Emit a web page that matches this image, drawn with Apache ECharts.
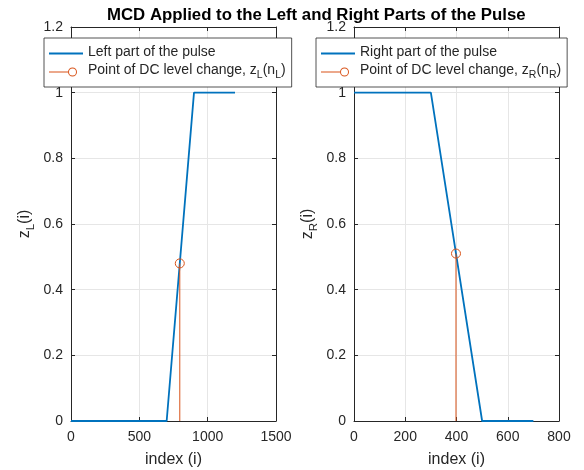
<!DOCTYPE html>
<html><head><meta charset="utf-8">
<script src="https://cdn.jsdelivr.net/npm/echarts@6/dist/echarts.min.js"></script>
<style>html,body{margin:0;padding:0;background:#fff}#c{width:584px;height:470px}</style>
</head><body><div id="c"></div>
<script>
const titleText = 'MCD Applied to the Left and Right Parts of the Pulse';
const leftX = [0, 700, 900, 1200];
const leftY = [0, 0, 1, 1];
const rightX = [0, 300, 500, 700];
const rightY = [1, 1, 0, 0];
const leftPointX = 796, leftPointY = 0.48;
const rightPointX = 398, rightPointY = 0.51;
const leftXTicks = [0, 1500, 500];   // min, max, interval
const rightXTicks = [0, 800, 200];
const yTicks = [0, 1.2, 0.2];
const leftNames = ['Left part of the pulse', 'Point of DC level change, zL'];
const rightNames = ['Right part of the pulse', 'Point of DC level change, zR'];

const FONT = 'Liberation Sans';
const TXT = '#262626';
const BLUE = '#0072BD', ORANGE = '#D95319';
const sub = {fontSize: 10.5, fontFamily: FONT, color: TXT, padding: [7, 0, 0, 0], verticalAlign: 'top'};
const norm = {fontSize: 14, fontFamily: FONT, color: TXT, verticalAlign: 'top', lineHeight: 17};
const nameNorm = {fontSize: 16, fontFamily: FONT, color: TXT, verticalAlign: 'top', lineHeight: 19};
const nameSub = {fontSize: 11.5, fontFamily: FONT, color: TXT, padding: [8, 0, 0, 0], verticalAlign: 'top'};

const lineIcon = 'path://M0,8 L34,8 L34,10 L0,10 Z';
const stemIcon = 'path://M0,8.5 L19,8.5 L19,9.5 L0,9.5 Z ' +
  'M19,9 A4.5,4.5 0 1 1 28,9 A4.5,4.5 0 1 1 19,9 Z ' +
  'M20,9 A3.5,3.5 0 1 0 27,9 A3.5,3.5 0 1 0 20,9 Z ' +
  'M34,9 L34,9.01 L33.99,9.01 Z';

const grids = [
  {left: 71, right: 308, top: 27, bottom: 49, containLabel: false, outerBoundsMode: 'none'},
  {left: 354, right: 25, top: 27, bottom: 49, containLabel: false, outerBoundsMode: 'none'}
];
function xAx(gi, t, pos) {
  const main = pos === 'bottom';
  return {
    type: 'value', gridIndex: gi, position: pos, min: t[0], max: t[1], interval: t[2],
    name: main ? 'index (i)' : '', nameLocation: 'middle', nameGap: 31,
    nameTextStyle: {fontSize: 16, fontFamily: FONT, color: TXT},
    axisLine: {show: true, onZero: false, lineStyle: {color: '#262626', width: 1}},
    axisTick: {show: true, inside: true, length: 4, lineStyle: {color: '#262626'}},
    axisLabel: {show: main, fontSize: 14, fontFamily: FONT, color: TXT, margin: 9,
      formatter: v => String(v)},
    splitLine: {show: main, lineStyle: {color: '#e6e6e6', width: 1}}
  };
}
function yAx(gi, pos, sname) {
  const main = pos === 'left';
  return {
    type: 'value', gridIndex: gi, position: pos, min: yTicks[0], max: yTicks[1], interval: yTicks[2],
    name: main ? '{n|z}{s|' + sname + '}{n|(i)}' : '', nameLocation: 'middle', nameGap: 34,
    nameTextStyle: {rich: {n: nameNorm, s: nameSub}},
    axisLine: {show: true, onZero: false, lineStyle: {color: '#262626', width: 1}},
    axisTick: {show: true, inside: true, length: 4, lineStyle: {color: '#262626'}},
    axisLabel: {show: main, fontSize: 14, fontFamily: FONT, color: TXT, margin: 8,
      formatter: v => String(Math.round(v * 10) / 10)},
    splitLine: {show: main, lineStyle: {color: '#e6e6e6', width: 1}}
  };
}
function legendFmt(name) {
  if (name.indexOf('zL') >= 0) return '{t|Point of DC level change, z}{s|L}{t|(n}{s|L}{t|)}';
  if (name.indexOf('zR') >= 0) return '{t|Point of DC level change, z}{s|R}{t|(n}{s|R}{t|)}';
  return '{t|' + name + '}';
}
function legend(names, left) {
  return {
    data: [{name: names[0], icon: lineIcon, itemStyle: {color: BLUE, borderWidth: 0}},
           {name: names[1], icon: stemIcon, itemStyle: {color: ORANGE, borderWidth: 0}}],
    left: left, top: 38, orient: 'vertical',
    itemWidth: 34, itemHeight: 10, itemGap: 4, padding: [7, 6, 6, 5],
    backgroundColor: '#fff', borderColor: '#262626', borderWidth: 0.8,
    itemStyle: {borderWidth: 0},
    formatter: legendFmt, textStyle: {rich: {t: norm, s: sub}}, z: 10
  };
}
const markerStyle = {color: 'rgba(0,0,0,0)', borderColor: ORANGE, borderWidth: 1};
const chart = echarts.init(document.getElementById('c'), null, {renderer: 'canvas'});
chart.setOption({
  animation: false,
  backgroundColor: '#fff',
  title: {text: titleText, left: 102, top: 2,
    textStyle: {fontSize: 16.8, fontWeight: 'bold', fontFamily: FONT, color: '#000'}},
  grid: grids,
  xAxis: [xAx(0, leftXTicks, 'bottom'), xAx(0, leftXTicks, 'top'),
          xAx(1, rightXTicks, 'bottom'), xAx(1, rightXTicks, 'top')],
  yAxis: [yAx(0, 'left', 'L'), yAx(0, 'right', 'L'), yAx(1, 'left', 'R'), yAx(1, 'right', 'R')],
  legend: [legend(leftNames, 44), legend(rightNames, 316)],
  series: [
    {name: leftNames[0], type: 'line', xAxisIndex: 0, yAxisIndex: 0, showSymbol: false, symbol: 'none',
      lineStyle: {color: BLUE, width: 1.8}, itemStyle: {color: BLUE},
      data: leftX.map((x, i) => [x, leftY[i]])},
    {name: leftNames[1], type: 'line', xAxisIndex: 0, yAxisIndex: 0, symbol: 'circle', symbolSize: 9,
      lineStyle: {color: ORANGE, width: 1}, itemStyle: markerStyle, z: 3,
      data: [{value: [leftPointX, 0], symbol: 'none'}, {value: [leftPointX, leftPointY]}]},
    {name: rightNames[0], type: 'line', xAxisIndex: 2, yAxisIndex: 2, showSymbol: false, symbol: 'none',
      lineStyle: {color: BLUE, width: 1.8}, itemStyle: {color: BLUE},
      data: rightX.map((x, i) => [x, rightY[i]])},
    {name: rightNames[1], type: 'line', xAxisIndex: 2, yAxisIndex: 2, symbol: 'circle', symbolSize: 9,
      lineStyle: {color: ORANGE, width: 1}, itemStyle: markerStyle, z: 3,
      data: [{value: [rightPointX, 0], symbol: 'none'}, {value: [rightPointX, rightPointY]}]}
  ]
});
</script></body></html>
